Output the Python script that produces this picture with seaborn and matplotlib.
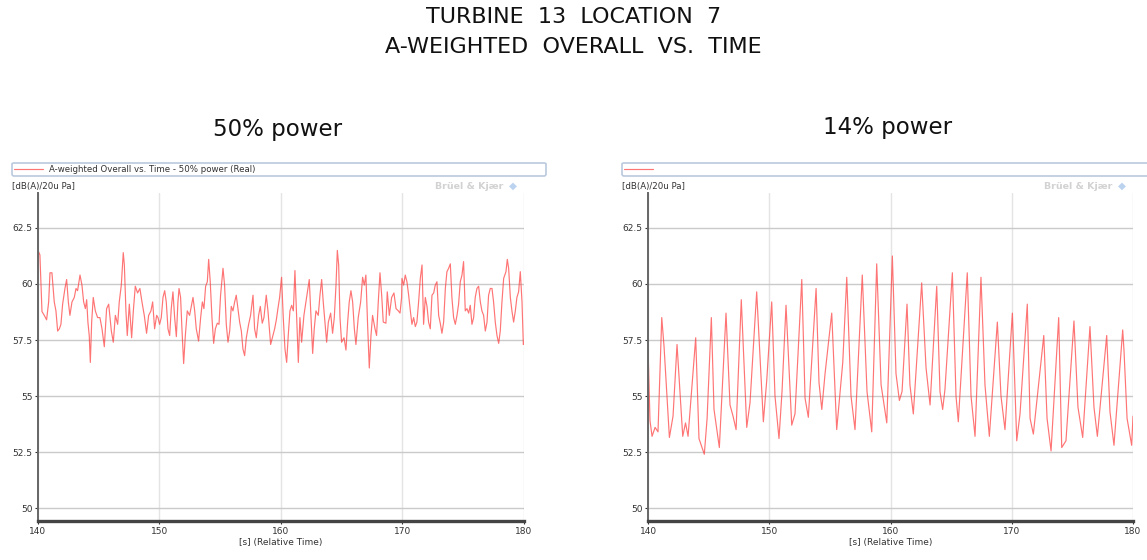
import seaborn as sns
import matplotlib.pyplot as plt

# 50% power series (time in s, level in dB(A))
t50 = [140.0, 140.16, 140.25, 140.33, 140.52, 140.71, 140.88, 140.99, 141.15, 141.34,
       141.48, 141.62, 141.76, 141.89, 142.03, 142.22, 142.36, 142.5, 142.63, 142.8,
       142.99, 143.13, 143.26, 143.46, 143.62, 143.76, 143.9, 144.01, 144.11, 144.22,
       144.31, 144.42, 144.55, 144.72, 144.91, 145.1, 145.27, 145.46, 145.65, 145.82,
       145.93, 146.04, 146.2, 146.37, 146.56, 146.69, 146.86, 147.02, 147.11, 147.24,
       147.35, 147.52, 147.71, 147.85, 148.01, 148.2, 148.39, 148.56, 148.75, 148.94,
       149.11, 149.3, 149.44, 149.6, 149.77,
       149.88, 150.01, 150.15, 150.29, 150.43, 150.56, 150.7, 150.84, 150.97, 151.11,
       151.25, 151.39, 151.52, 151.61, 151.74, 151.85, 151.99, 152.13, 152.29, 152.48,
       152.62, 152.76, 152.9, 153.03, 153.22, 153.39, 153.53, 153.66, 153.8, 153.94,
       154.05, 154.18, 154.32, 154.46, 154.6, 154.76, 154.9, 155.03, 155.23, 155.36,
       155.5, 155.64, 155.78, 155.91, 156.05, 156.19, 156.32, 156.46, 156.6, 156.74,
       156.87, 157.01, 157.15, 157.34, 157.5, 157.7, 157.83, 157.97, 158.16, 158.3,
       158.46, 158.6, 158.79, 158.93, 159.15, 159.34, 159.48, 159.62, 159.75, 159.89,
       160.05, 160.19, 160.33, 160.47, 160.6, 160.74, 160.88, 161.02, 161.15, 161.29,
       161.43, 161.56, 161.7, 161.89, 162.11, 162.33, 162.47, 162.61, 162.74, 162.88,
       163.07, 163.21, 163.35, 163.48, 163.62, 163.76, 163.9, 164.09, 164.25, 164.39,
       164.53, 164.64, 164.75, 164.86, 164.99, 165.19, 165.35, 165.49, 165.62, 165.76,
       165.9, 166.04, 166.17, 166.36, 166.56, 166.72, 166.86, 166.99, 167.13, 167.27,
       167.41, 167.54, 167.74, 167.87, 168.01, 168.15, 168.29, 168.42, 168.64, 168.75,
       168.92, 169.11, 169.3, 169.47, 169.66, 169.8, 169.93,
       169.96, 170.1, 170.23, 170.37, 170.51, 170.65, 170.78, 170.92, 171.06, 171.19,
       171.33, 171.47, 171.61, 171.74, 171.88, 172.02, 172.15, 172.29, 172.43, 172.57,
       172.7, 172.84, 172.98, 173.11, 173.25, 173.39, 173.53, 173.66, 173.8, 173.94,
       174.07, 174.21, 174.35, 174.49, 174.62, 174.76, 174.9, 175.03, 175.17, 175.31,
       175.45, 175.58, 175.72, 175.86, 175.99, 176.13, 176.27, 176.41, 176.54, 176.68,
       176.82, 176.96, 177.09, 177.23, 177.37, 177.5, 177.64, 177.78, 177.92, 178.05,
       178.19, 178.33, 178.52, 178.63, 178.74, 178.88, 179.01, 179.15, 179.29, 179.42,
       179.56, 179.7, 179.84, 179.95, 180.0]
db50 = [61.5, 61.3, 59.95, 58.77, 58.6, 58.4, 59.2, 60.5, 60.5, 59.2,
        58.8, 57.9, 58.0, 58.2, 59.1, 59.8, 60.2, 59.2, 58.6, 59.2,
        59.4, 59.8, 59.7, 60.4, 59.95, 59.2, 58.9, 59.3, 58.3, 57.7,
        56.5, 58.3, 59.4, 58.8, 58.5, 58.5, 58.0, 57.2, 58.9, 59.1,
        58.5, 57.9, 57.4, 58.6, 58.2, 59.2, 59.95, 61.4, 60.85, 58.8,
        57.7, 59.1, 57.6, 58.8, 59.9, 59.6, 59.8, 59.2, 58.6, 57.8,
        58.6, 58.8, 59.2, 58.0, 58.6,
        58.5, 58.2, 58.5, 59.4, 59.7, 59.2, 58.0, 57.7, 58.9, 59.65,
        58.5, 57.65, 59.2, 59.8, 59.4, 58.0, 56.45, 57.7, 58.8, 58.6,
        59.0, 59.4, 58.8, 58.0, 57.45, 58.5, 59.2, 58.9, 59.9, 60.1,
        61.1, 60.1, 58.5, 57.35, 58.0, 58.25, 58.2, 59.5, 60.7, 59.95,
        58.2, 57.4, 57.9, 59.0, 58.8, 59.2, 59.5, 58.9, 58.3, 57.9,
        57.1, 56.8, 57.6, 58.2, 58.6, 59.5, 58.0, 57.6, 58.6, 59.0,
        58.25, 58.5, 59.5, 58.8, 57.3, 57.7, 58.0, 58.4, 58.9, 59.4,
        60.3, 58.5, 57.1, 56.5, 57.7, 58.8, 59.05, 58.8, 60.6, 58.5,
        56.5, 58.5, 57.4, 58.6, 59.4, 60.2, 58.5, 56.9, 58.0, 58.8,
        58.6, 59.5, 60.2, 59.2, 58.3, 57.4, 58.3, 58.7, 57.8, 58.5,
        59.95, 61.5, 60.85, 58.5, 57.4, 57.6, 57.05, 58.3, 59.2, 59.7,
        59.2, 58.0, 57.3, 58.5, 59.2, 60.3, 59.95, 60.4, 58.2, 56.25,
        57.7, 58.6, 58.0, 57.7, 59.2, 60.5, 59.5, 58.3, 58.25, 59.65,
        58.6, 59.4, 59.6, 58.9, 58.8, 58.7, 59.4,
        60.25, 59.95, 60.4, 60.1, 59.5, 58.8, 58.2, 58.5, 58.1, 58.3,
        59.2, 60.25, 60.85, 58.2, 59.4, 59.0, 58.3, 58.0, 59.5, 59.6,
        59.95, 60.1, 58.6, 58.25, 57.8, 58.3, 59.8, 60.55, 60.7, 60.9,
        59.4, 58.5, 58.2, 58.6, 59.1, 60.1, 60.4, 61.0, 58.8, 58.9,
        58.7, 59.05, 58.2, 58.5, 59.4, 59.8, 59.9, 59.2, 58.8, 58.6,
        57.9, 58.3, 59.5, 59.8, 59.8, 59.2, 58.3, 57.7, 57.35, 57.9,
        59.2, 60.25, 60.55, 61.1, 60.7, 59.4, 58.8, 58.3, 58.8, 59.4,
        59.65, 60.55, 59.2, 57.3, 57.4]

# 14% power series
t14 = [140.0, 140.16, 140.33, 140.58, 140.82, 141.13, 141.32, 141.76, 142.06, 142.39,
       142.86, 143.09, 143.3, 143.93, 144.2, 144.64, 144.87, 145.22, 145.44, 145.88,
       146.43, 146.76, 147.01, 147.26, 147.69, 148.14, 148.41, 148.96, 149.51, 149.79,
       150.2, 150.47, 150.8, 151.05, 151.38, 151.85, 152.12, 152.68, 152.95, 153.22,
       153.86, 154.1, 154.33, 154.6, 155.15, 155.56, 156.06, 156.39, 156.74, 157.07,
       157.67, 158.06, 158.45, 158.86, 159.22, 159.69, 160.15, 160.45, 160.73, 160.95,
       161.36, 161.6, 161.88, 162.57, 162.93, 163.26, 163.81, 164.08, 164.3, 164.49,
       165.1, 165.4, 165.59, 166.33, 166.64, 166.97, 167.46, 167.79, 168.15, 168.81,
       169.11, 169.44, 170.05, 170.41, 170.68, 171.28, 171.51, 171.78, 172.64, 172.91,
       173.24, 173.87, 174.12, 174.47, 175.13, 175.46, 175.85, 176.45, 176.78, 177.06,
       177.83, 178.1, 178.43, 179.15, 179.26, 179.51, 179.89, 180.0]
db14 = [57.1, 53.9, 53.2, 53.6, 53.4, 58.5, 57.2, 53.15, 54.1, 57.3,
        53.2, 53.8, 53.2, 57.6, 53.1, 52.4, 54.0, 58.5, 54.4, 52.7,
        58.7, 54.6, 54.1, 53.5, 59.3, 53.6, 54.7, 59.65, 53.85, 55.7,
        59.2, 55.0, 53.1, 55.2, 59.05, 53.7, 54.2, 60.2, 54.9, 54.05,
        59.8, 55.6, 54.4, 56.0, 58.7, 53.5, 56.5, 60.3, 55.0, 53.5,
        60.4, 55.2, 53.4, 60.9, 55.5, 53.8, 61.25, 56.0, 54.8, 55.2,
        59.1, 55.5, 54.2, 60.05, 56.25, 54.6, 59.9, 55.2, 54.4, 55.3,
        60.5, 55.0, 53.85, 60.5, 55.0, 53.2, 60.3, 55.5, 53.2, 58.3,
        55.0, 53.5, 58.7, 53.0, 54.2, 59.1, 54.0, 53.3, 57.7, 54.0,
        52.55, 58.5, 52.7, 53.0, 58.35, 54.5, 53.15, 58.1, 54.5, 53.2,
        57.7, 54.3, 52.8, 57.95, 57.0, 54.0, 52.8, 54.1]

xticks = [140, 150, 160, 170, 180]
yticks = [50, 52.5, 55, 57.5, 60, 62.5]
ytick_labels = ["50", "52.5", "55", "57.5", "60", "62.5"]

sns.set_theme(style="white")
plt.rcParams["font.family"] = ["DejaVu Sans"]

fig = plt.figure(figsize=(11.47, 5.6), dpi=100)
ax1 = fig.add_axes([0.0331, 0.0696, 0.4237, 0.5857])
ax2 = fig.add_axes([0.5650, 0.0696, 0.4228, 0.5857])

panels = [
    (ax1, t50, db50, "A-weighted Overall vs. Time - 50% power (Real)", "50% power", 0.2424, 0.7696),
    (ax2, t14, db14, " ", "14% power", 0.7742, 0.7730),
]

for ax, t, db, leg, sub, sx, sy in panels:
    sns.lineplot(x=t, y=db, ax=ax, color="#ff3a3a", lw=0.85, alpha=0.7, label=leg)
    ax.set_xlim(140, 180)
    ax.set_ylim(49.42, 64.06)
    ax.set_xticks(xticks)
    ax.set_yticks(yticks)
    ax.set_yticklabels(ytick_labels)
    ax.tick_params(axis="both", labelsize=6.5, colors="#333333", length=2.5, width=0.8,
                   pad=1.5, left=True, bottom=True)
    ax.grid(axis="y", color="#cacaca", lw=1.0)
    ax.grid(axis="x", color="#e4e4e4", lw=1.0)
    ax.set_axisbelow(True)
    for s in ("top", "right"):
        ax.spines[s].set_visible(False)
    ax.spines["left"].set_color("#666666")
    ax.spines["left"].set_linewidth(1.4)
    ax.spines["bottom"].set_color("#444444")
    ax.spines["bottom"].set_linewidth(2.4)
    ax.set_xlabel("[s] (Relative Time)", fontsize=6.5, color="#333333", labelpad=2)
    ax.set_ylabel("")

    lg = ax.legend(loc="lower left", bbox_to_anchor=(-0.0535, 1.052, 1.099, 0.052),
                   mode="expand", fontsize=6.2, frameon=True, fancybox=True,
                   handlelength=3.3, borderpad=0.25, borderaxespad=0, handletextpad=0.8)
    lg.get_frame().set_edgecolor("#a9bcd6")
    lg.get_frame().set_linewidth(1.2)
    for txt in lg.get_texts():
        txt.set_color("#333333")

    ax.text(-0.0535, 1.021, "[dB(A)/20u Pa]", transform=ax.transAxes, fontsize=6.2,
            color="#333333", ha="left", va="center")
    ax.text(0.957, 1.021, "Brüel & Kjær", transform=ax.transAxes, fontsize=6.8,
            color="#d2d2d2", ha="right", va="center", fontweight="bold")
    ax.text(0.977, 1.021, "◆", transform=ax.transAxes, fontsize=7.5,
            color="#bcd3ef", ha="center", va="center")

    fig.text(sx, sy, sub, fontsize=16.5, color="#111111", ha="center", va="center")

fig.text(0.5, 0.9696, "TURBINE  13  LOCATION  7", fontsize=16, ha="center",
         va="center", color="#111111")
fig.text(0.5, 0.916, "A-WEIGHTED  OVERALL  VS.  TIME", fontsize=16, ha="center",
         va="center", color="#111111")

fig.savefig("out.png", dpi=100)
